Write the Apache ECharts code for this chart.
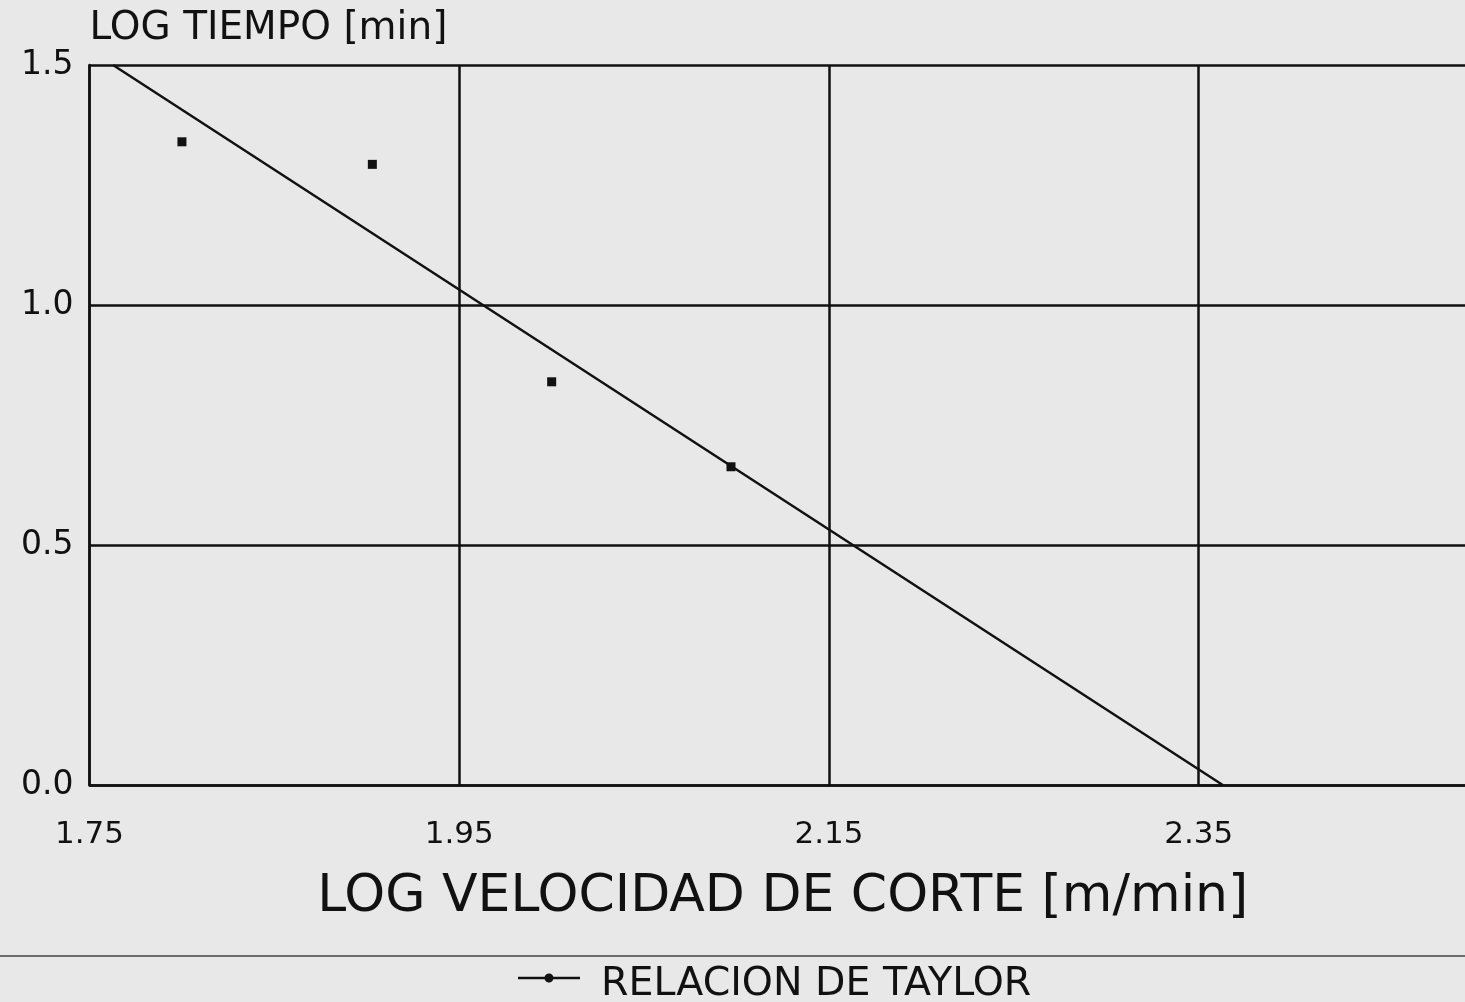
<!DOCTYPE html>
<html>
<head>
<meta charset="utf-8">
<script src="https://cdn.jsdelivr.net/npm/echarts@6/dist/echarts.min.js"></script>
<style>
  html, body { margin: 0; padding: 0; background: #e8e8e8; }
  #chart { width: 1465px; height: 1002px; }
</style>
</head>
<body>
<div id="chart"></div>
<script>
// Data
const xAxisName = 'LOG VELOCIDAD DE CORTE [m/min]';
const yAxisName = 'LOG TIEMPO [min]';
const seriesName = 'RELACION DE TAYLOR';
const logVelocidad = [1.80, 1.903, 2.00, 2.097];
const logTiempo = [1.34, 1.293, 0.84, 0.663];
// fitted Taylor line (endpoints)
const fitX = [1.7627, 2.363];
const fitY = [1.5, 0.0];

const pointData = logVelocidad.map((x, i) => [x, logTiempo[i]]);
const fitData = fitX.map((x, i) => [x, fitY[i]]);

const FONT = 'DejaVu Sans';
const chart = echarts.init(document.getElementById('chart'));
chart.setOption({
  backgroundColor: '#e8e8e8',
  animation: false,
  textStyle: { fontFamily: FONT, color: '#111' },
  grid: { left: 89.5, top: 65, bottom: 217, width: 1386.5, containLabel: false, outerBoundsMode: 'none' },
  xAxis: {
    type: 'value',
    min: 1.75, max: 2.5, interval: 0.2,
    name: xAxisName,
    nameLocation: 'middle',
    nameGap: 86,
    nameTextStyle: { fontSize: 52, fontFamily: FONT, color: '#111' },
    axisLine: { show: true, lineStyle: { color: '#111', width: 2.5 } },
    axisTick: { show: false },
    axisLabel: {
      fontSize: 31, fontFamily: FONT, color: '#111', margin: 34,
      showMaxLabel: false,
      formatter: v => v.toFixed(2)
    },
    splitLine: { show: true, lineStyle: { color: '#111', width: 2.5 } }
  },
  yAxis: {
    type: 'value',
    min: 0, max: 1.5, interval: 0.5,
    name: yAxisName,
    nameLocation: 'end',
    nameGap: 36,
    nameTextStyle: { fontSize: 39, fontFamily: FONT, color: '#111', align: 'left', verticalAlign: 'middle' },
    axisLine: { show: true, lineStyle: { color: '#111', width: 2.5 } },
    axisTick: { show: false },
    axisLabel: {
      fontSize: 33, fontFamily: FONT, color: '#111', margin: 16,
      formatter: v => v.toFixed(1)
    },
    splitLine: { show: true, lineStyle: { color: '#111', width: 2.5 } }
  },
  legend: {
    left: 513, top: 960,
    itemWidth: 62, itemHeight: 30, itemGap: 10,
    textStyle: { fontSize: 39.5, fontFamily: FONT, color: '#111', padding: [0, 0, 0, 16] },
    data: [{
      name: seriesName,
      icon: 'path://M0,0 M0,30 M0,6.8h62v2.4H0z M26.5,8a4.5,4.5 0 1,1 9,0a4.5,4.5 0 1,1 -9,0z',
      itemStyle: { color: '#111', borderWidth: 0, opacity: 1 }
    }]
  },
  graphic: [{
    type: 'line',
    shape: { x1: 0, y1: 956, x2: 1465, y2: 956 },
    style: { stroke: '#444', lineWidth: 1.5 }
  }],
  series: [
    {
      name: seriesName,
      type: 'line',
      data: fitData,
      symbol: 'circle',
      symbolSize: 9,
      showSymbol: false,
      lineStyle: { color: '#111', width: 2.5 },
      itemStyle: { color: '#111' },
      z: 3
    },
    {
      name: seriesName,
      type: 'scatter',
      data: pointData,
      symbol: 'rect',
      symbolSize: 9,
      itemStyle: { color: '#111', opacity: 1 },
      z: 4
    }
  ]
});
</script>
</body>
</html>
